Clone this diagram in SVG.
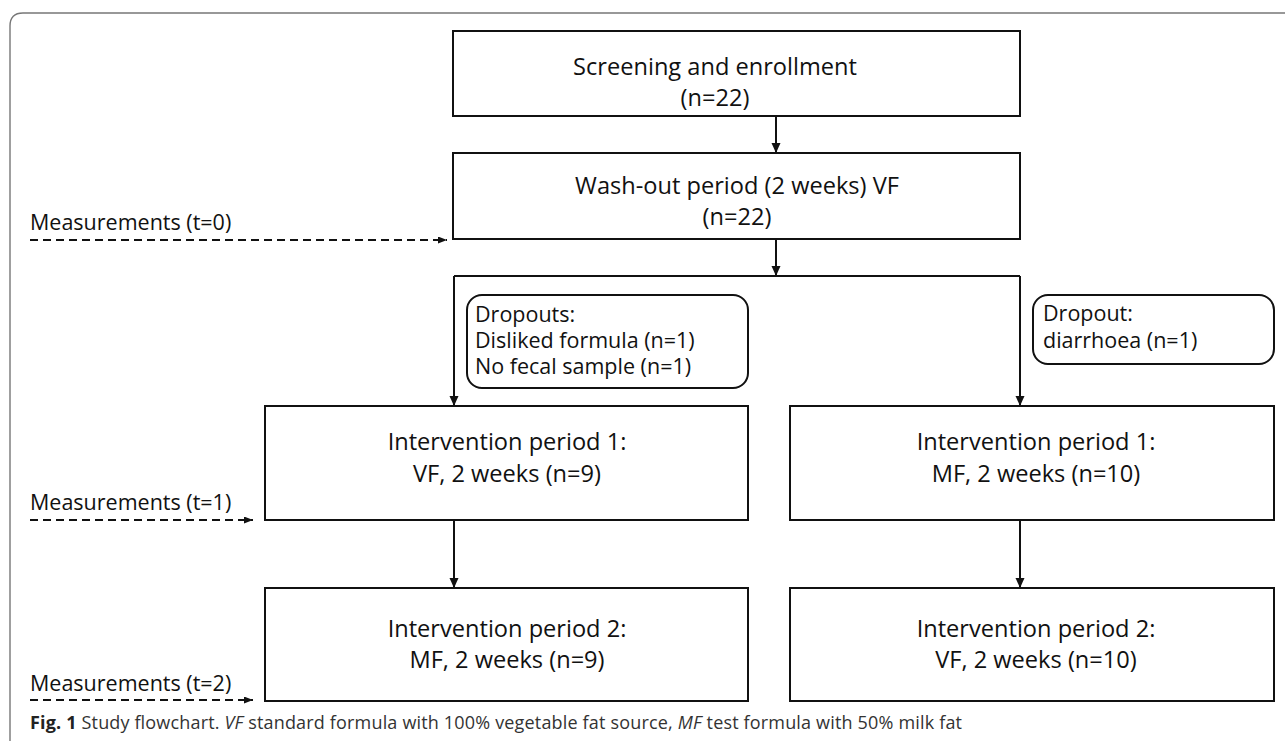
<svg xmlns="http://www.w3.org/2000/svg" width="1285" height="741" viewBox="0 0 1285 741">
<style>
.box{fill:#fff;stroke:#111;stroke-width:2}
.rbox{fill:#fff;stroke:#111;stroke-width:2}
.t{font-family:"Open Sans","Noto Sans",sans-serif;font-size:23.6px;fill:#111;text-anchor:middle}
.s{font-family:"Open Sans","Noto Sans",sans-serif;font-size:21.5px;fill:#111}
.ln{fill:none;stroke:#111;stroke-width:2}
.dash{fill:none;stroke:#111;stroke-width:1.8;stroke-dasharray:8 5}
.cap{font-family:"Open Sans","Noto Sans",sans-serif;font-size:18px;fill:#333}
</style>
<defs>
<marker id="ah" markerUnits="userSpaceOnUse" markerWidth="12" markerHeight="10" refX="10" refY="4.5" orient="auto">
<path d="M0,0 L10,4.5 L0,9 z" fill="#111"/>
</marker>
<marker id="ahs" markerUnits="userSpaceOnUse" markerWidth="10" markerHeight="8" refX="9" refY="3.5" orient="auto">
<path d="M0,0 L9,3.5 L0,7 z" fill="#111"/>
</marker>
</defs>
<rect width="1285" height="741" fill="#fff"/>
<path d="M10,741 V26 Q10,13 23,13 H1285" fill="none" stroke="#777" stroke-width="1.4"/>

<g id="screening">
<rect class="box" x="453" y="31" width="567" height="85"/>
<text class="t" x="715" y="75">Screening and enrollment</text>
<text class="t" x="715" y="106">(n=22)</text>
</g>
<g id="washout">
<rect class="box" x="453" y="153" width="567" height="86"/>
<text class="t" x="737" y="194">Wash-out period (2 weeks) VF</text>
<text class="t" x="737" y="225">(n=22)</text>
</g>
<g id="dropouts-left">
<rect class="rbox" x="467" y="295" width="281" height="93" rx="15"/>
<text class="s" x="475" y="322">Dropouts:</text>
<text class="s" x="475" y="348">Disliked formula (n=1)</text>
<text class="s" x="475" y="374">No fecal sample (n=1)</text>
</g>
<g id="dropout-right">
<rect class="rbox" x="1033" y="295" width="241" height="69" rx="15"/>
<text class="s" x="1043" y="321">Dropout:</text>
<text class="s" x="1043" y="348">diarrhoea (n=1)</text>
</g>
<g id="int1-left">
<rect class="box" x="265" y="406" width="483" height="114"/>
<text class="t" x="507" y="450">Intervention period 1:</text>
<text class="t" x="507" y="482">VF, 2 weeks (n=9)</text>
</g>
<g id="int1-right">
<rect class="box" x="790" y="406" width="484" height="114"/>
<text class="t" x="1036" y="450">Intervention period 1:</text>
<text class="t" x="1036" y="482">MF, 2 weeks (n=10)</text>
</g>
<g id="int2-left">
<rect class="box" x="265" y="588" width="483" height="113"/>
<text class="t" x="507" y="637">Intervention period 2:</text>
<text class="t" x="507" y="668">MF, 2 weeks (n=9)</text>
</g>
<g id="int2-right">
<rect class="box" x="790" y="588" width="484" height="113"/>
<text class="t" x="1036" y="637">Intervention period 2:</text>
<text class="t" x="1036" y="668">VF, 2 weeks (n=10)</text>
</g>
<g id="measurements">
<text class="s" x="30" y="230">Measurements (t=0)</text>
<text class="s" x="30" y="510">Measurements (t=1)</text>
<text class="s" x="30" y="691">Measurements (t=2)</text>
</g>
<g id="connectors">
<path class="ln" d="M776,116 V153" marker-end="url(#ah)"/>
<path class="ln" d="M776,239 V276" marker-end="url(#ah)"/>
<path class="ln" d="M454,276 H1020"/>
<path class="ln" d="M454,276 V406" marker-end="url(#ah)"/>
<path class="ln" d="M1020,276 V406" marker-end="url(#ah)"/>
<path class="ln" d="M454,520 V588" marker-end="url(#ah)"/>
<path class="ln" d="M1020,520 V588" marker-end="url(#ah)"/>
<path class="dash" d="M30,240 H447" marker-end="url(#ahs)"/>
<path class="dash" d="M30,520 H253" marker-end="url(#ahs)"/>
<path class="dash" d="M30,700 H253" marker-end="url(#ahs)"/>
</g>
<text class="cap" x="30" y="729" textLength="932" lengthAdjust="spacing"><tspan font-weight="bold" fill="#222">Fig. 1</tspan>  Study flowchart. <tspan font-style="italic">VF</tspan> standard formula with 100% vegetable fat source, <tspan font-style="italic">MF</tspan> test formula with 50% milk fat</text>
</svg>
